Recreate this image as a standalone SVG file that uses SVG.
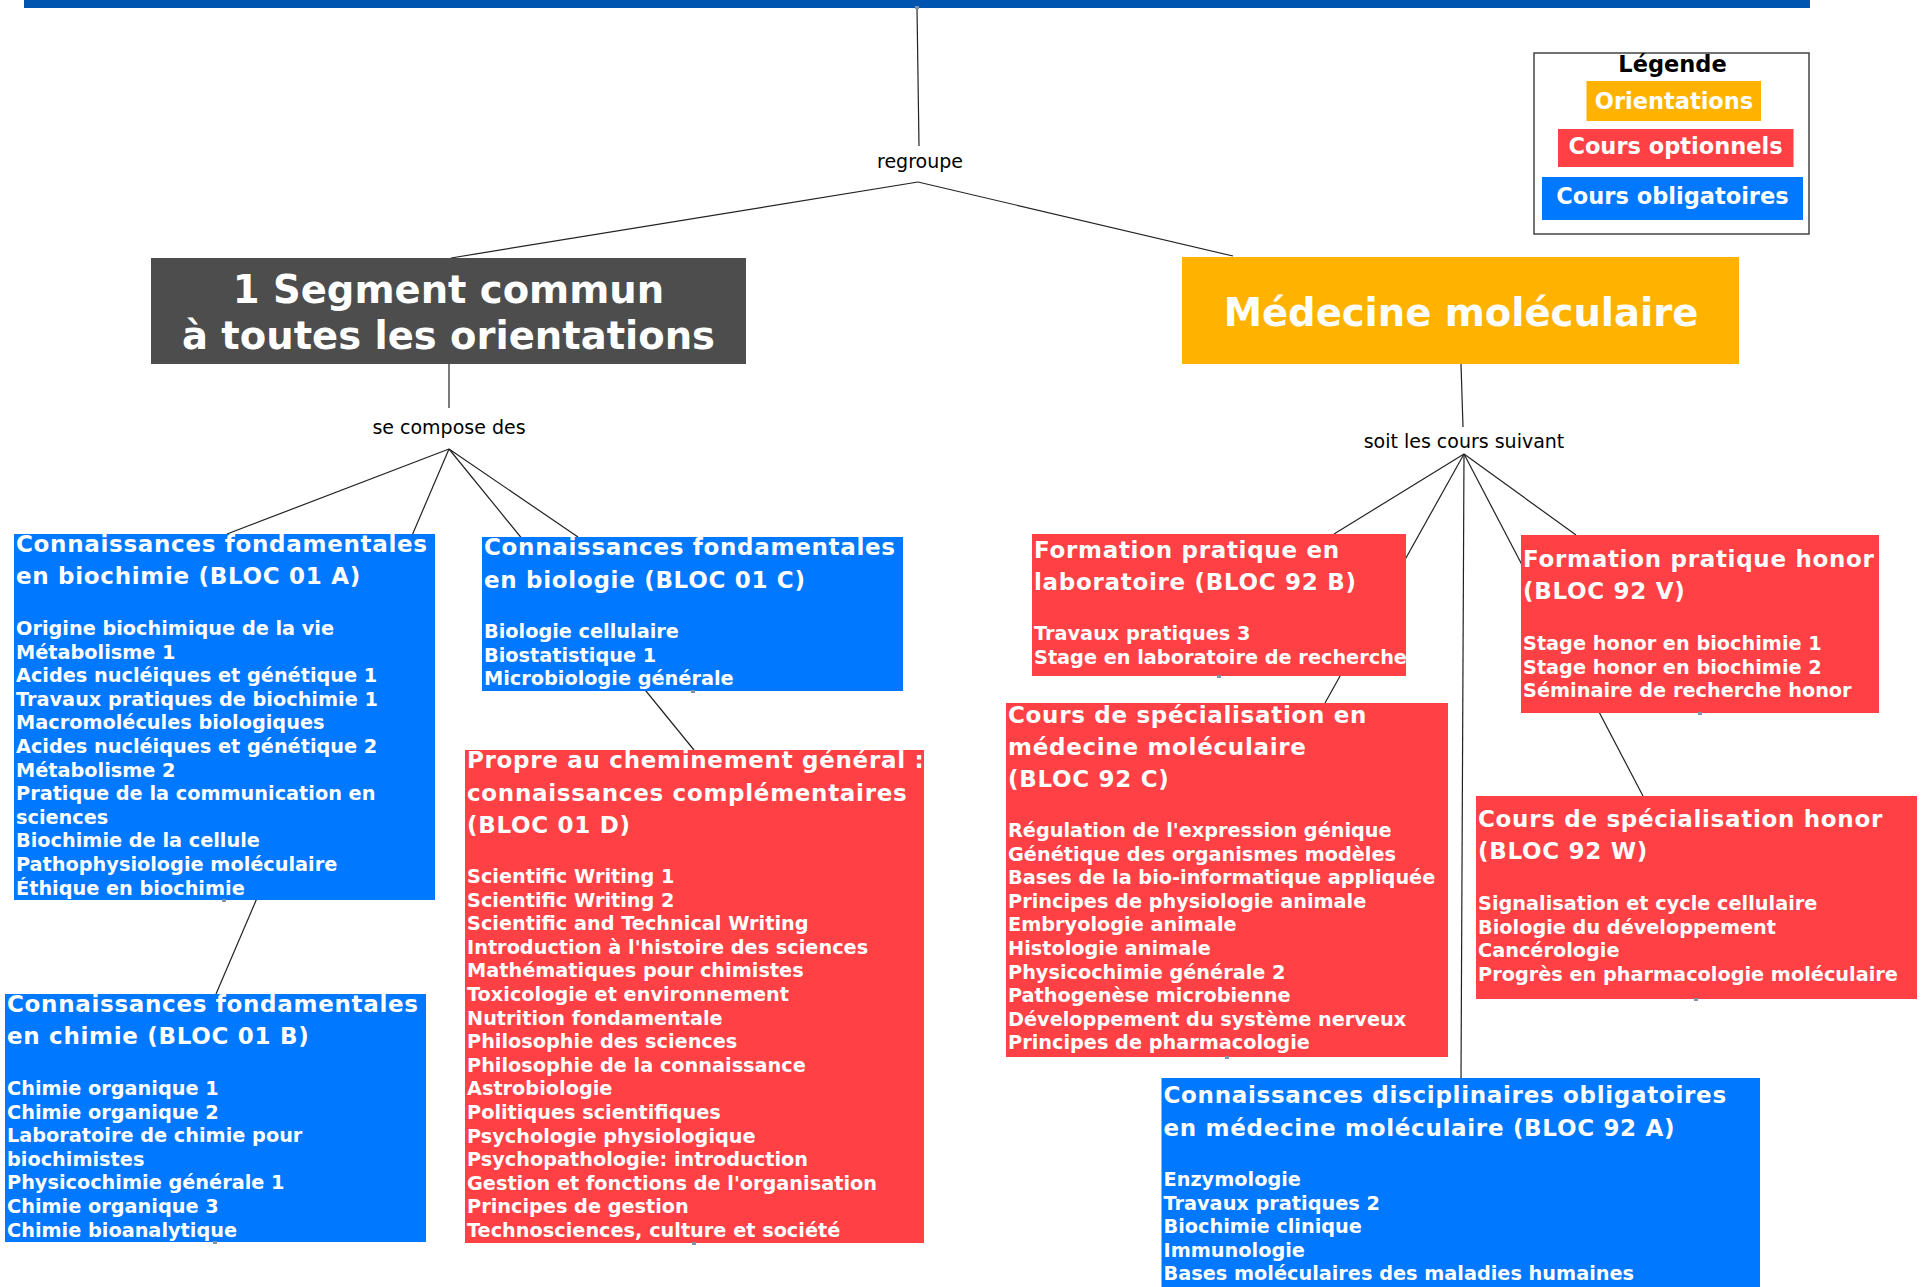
<svg xmlns="http://www.w3.org/2000/svg" width="1923" height="1287" viewBox="0 0 1923 1287">
<style>
.bg{fill:#ffffff}
.blue{fill:#0078FF}
.red{fill:#FF4044}
.orange{fill:#FFB300}
.grey{fill:#4D4D4D}
.ttl{font-family:"DejaVu Sans",Verdana,sans-serif;font-weight:bold;font-size:23px;letter-spacing:0.7px;fill:#ffffff}
.itm{font-family:"DejaVu Sans",Verdana,sans-serif;font-weight:bold;font-size:19.3px;fill:#ffffff}
.big{font-family:"DejaVu Sans",Verdana,sans-serif;font-weight:bold;font-size:38.5px;fill:#ffffff;text-anchor:middle}
.lbl{font-family:"DejaVu Sans",Verdana,sans-serif;font-size:19px;fill:#000000;text-anchor:middle}
.leg{font-family:"DejaVu Sans",Verdana,sans-serif;font-weight:bold;font-size:22.5px;fill:#ffffff;text-anchor:middle}
.con line{stroke:#222222;stroke-width:1.2;fill:none}
.hd{fill:#7F93AA}
</style>
<rect class="bg" x="0" y="0" width="1923" height="1287"/>

<g id="connectors" class="con">
<line x1="917" y1="8" x2="919" y2="146"/>
<line x1="918" y1="182" x2="451" y2="258"/>
<line x1="918" y1="182" x2="1233" y2="256"/>
<line x1="449" y1="364" x2="449" y2="408"/>
<line x1="449" y1="449" x2="227" y2="534"/>
<line x1="449" y1="449" x2="216" y2="994"/>
<line x1="449" y1="449" x2="578" y2="537"/>
<line x1="449" y1="449" x2="694" y2="750"/>
<line x1="1461" y1="364" x2="1463" y2="427"/>
<line x1="1464" y1="454" x2="1334" y2="534"/>
<line x1="1464" y1="454" x2="1325" y2="703"/>
<line x1="1464" y1="454" x2="1461" y2="1078"/>
<line x1="1464" y1="454" x2="1576" y2="535"/>
<line x1="1464" y1="454" x2="1643" y2="796"/>
</g>

<g id="root">
<rect x="24" y="-20" width="1786" height="28" fill="#0055B0"/>
</g>

<g id="lbl-regroupe"><text class="lbl" x="920" y="168">regroupe</text></g>
<g id="lbl-compose"><text class="lbl" x="449" y="434">se compose des</text></g>
<g id="lbl-suivant"><text class="lbl" x="1464" y="448">soit les cours suivant</text></g>

<g id="segment-commun">
<rect class="grey" x="151" y="258" width="595" height="106"/>
<text class="big" x="448.5" y="303">1 Segment commun</text>
<text class="big" x="448.5" y="349">à toutes les orientations</text>
</g>

<g id="medecine-moleculaire">
<rect class="orange" x="1182" y="257" width="557" height="107"/>
<text class="big" x="1461" y="326">Médecine moléculaire</text>
</g>

<g id="legende">
<rect x="1534" y="53" width="275" height="181" fill="#ffffff" stroke="#444444" stroke-width="1.5"/>
<text class="leg" x="1672.5" y="72" style="fill:#000000">Légende</text>
<rect class="orange" x="1586.5" y="81" width="174.5" height="40"/>
<text class="leg" x="1674" y="109">Orientations</text>
<rect class="red" x="1558" y="129" width="235.5" height="38"/>
<text class="leg" x="1675.5" y="154">Cours optionnels</text>
<rect class="blue" x="1542" y="177" width="261" height="43"/>
<text class="leg" x="1672.5" y="204">Cours obligatoires</text>
</g>

<g id="bloc01A">
<rect class="blue" x="14" y="534" width="421" height="366"/>
<text class="ttl"><tspan x="16" y="552">Connaissances fondamentales</tspan><tspan x="16" y="584">en biochimie (BLOC 01 A)</tspan></text>
<text class="itm">
<tspan x="16" y="635">Origine biochimique de la vie</tspan>
<tspan x="16" y="658.6">Métabolisme 1</tspan>
<tspan x="16" y="682.2">Acides nucléiques et génétique 1</tspan>
<tspan x="16" y="705.8">Travaux pratiques de biochimie 1</tspan>
<tspan x="16" y="729.4">Macromolécules biologiques</tspan>
<tspan x="16" y="753">Acides nucléiques et génétique 2</tspan>
<tspan x="16" y="776.6">Métabolisme 2</tspan>
<tspan x="16" y="800.2">Pratique de la communication en</tspan>
<tspan x="16" y="823.8">sciences</tspan>
<tspan x="16" y="847.4">Biochimie de la cellule</tspan>
<tspan x="16" y="871">Pathophysiologie moléculaire</tspan>
<tspan x="16" y="894.6">Éthique en biochimie</tspan>
</text>
</g>

<g id="bloc01C">
<rect class="blue" x="482" y="537" width="421" height="154"/>
<text class="ttl"><tspan x="484" y="555">Connaissances fondamentales</tspan><tspan x="484" y="588">en biologie (BLOC 01 C)</tspan></text>
<text class="itm">
<tspan x="484" y="638">Biologie cellulaire</tspan>
<tspan x="484" y="661.6">Biostatistique 1</tspan>
<tspan x="484" y="685.2">Microbiologie générale</tspan>
</text>
</g>

<g id="bloc01D">
<rect class="red" x="465" y="750" width="459" height="493"/>
<text class="ttl"><tspan x="467" y="768">Propre au cheminement général :</tspan><tspan x="467" y="800.5">connaissances complémentaires</tspan><tspan x="467" y="833">(BLOC 01 D)</tspan></text>
<text class="itm">
<tspan x="467" y="883">Scientific Writing 1</tspan>
<tspan x="467" y="906.6">Scientific Writing 2</tspan>
<tspan x="467" y="930.2">Scientific and Technical Writing</tspan>
<tspan x="467" y="953.8">Introduction à l'histoire des sciences</tspan>
<tspan x="467" y="977.4">Mathématiques pour chimistes</tspan>
<tspan x="467" y="1001">Toxicologie et environnement</tspan>
<tspan x="467" y="1024.6">Nutrition fondamentale</tspan>
<tspan x="467" y="1048.2">Philosophie des sciences</tspan>
<tspan x="467" y="1071.8">Philosophie de la connaissance</tspan>
<tspan x="467" y="1095.4">Astrobiologie</tspan>
<tspan x="467" y="1119">Politiques scientifiques</tspan>
<tspan x="467" y="1142.6">Psychologie physiologique</tspan>
<tspan x="467" y="1166.2">Psychopathologie: introduction</tspan>
<tspan x="467" y="1189.8">Gestion et fonctions de l'organisation</tspan>
<tspan x="467" y="1213.4">Principes de gestion</tspan>
<tspan x="467" y="1237">Technosciences, culture et société</tspan>
</text>
</g>

<g id="bloc01B">
<rect class="blue" x="5" y="994" width="421" height="248"/>
<text class="ttl"><tspan x="7" y="1012">Connaissances fondamentales</tspan><tspan x="7" y="1044">en chimie (BLOC 01 B)</tspan></text>
<text class="itm">
<tspan x="7" y="1095">Chimie organique 1</tspan>
<tspan x="7" y="1118.6">Chimie organique 2</tspan>
<tspan x="7" y="1142.2">Laboratoire de chimie pour</tspan>
<tspan x="7" y="1165.8">biochimistes</tspan>
<tspan x="7" y="1189.4">Physicochimie générale 1</tspan>
<tspan x="7" y="1213">Chimie organique 3</tspan>
<tspan x="7" y="1236.6">Chimie bioanalytique</tspan>
</text>
</g>

<g id="bloc92B">
<rect class="red" x="1032" y="534" width="374" height="142"/>
<text class="ttl"><tspan x="1034" y="558">Formation pratique en</tspan><tspan x="1034" y="590">laboratoire (BLOC 92 B)</tspan></text>
<text class="itm">
<tspan x="1034" y="640">Travaux pratiques 3</tspan>
<tspan x="1034" y="663.6">Stage en laboratoire de recherche</tspan>
</text>
</g>

<g id="bloc92C">
<rect class="red" x="1006" y="703" width="442" height="354"/>
<text class="ttl"><tspan x="1008" y="723">Cours de spécialisation en</tspan><tspan x="1008" y="755">médecine moléculaire</tspan><tspan x="1008" y="787">(BLOC 92 C)</tspan></text>
<text class="itm">
<tspan x="1008" y="837">Régulation de l'expression génique</tspan>
<tspan x="1008" y="860.6">Génétique des organismes modèles</tspan>
<tspan x="1008" y="884.2">Bases de la bio-informatique appliquée</tspan>
<tspan x="1008" y="907.8">Principes de physiologie animale</tspan>
<tspan x="1008" y="931.4">Embryologie animale</tspan>
<tspan x="1008" y="955">Histologie animale</tspan>
<tspan x="1008" y="978.6">Physicochimie générale 2</tspan>
<tspan x="1008" y="1002.2">Pathogenèse microbienne</tspan>
<tspan x="1008" y="1025.8">Développement du système nerveux</tspan>
<tspan x="1008" y="1049.4">Principes de pharmacologie</tspan>
</text>
</g>

<g id="bloc92V">
<rect class="red" x="1521" y="535" width="358" height="178"/>
<text class="ttl"><tspan x="1523" y="567">Formation pratique honor</tspan><tspan x="1523" y="599">(BLOC 92 V)</tspan></text>
<text class="itm">
<tspan x="1523" y="650">Stage honor en biochimie 1</tspan>
<tspan x="1523" y="673.6">Stage honor en biochimie 2</tspan>
<tspan x="1523" y="697.2">Séminaire de recherche honor</tspan>
</text>
</g>

<g id="bloc92W">
<rect class="red" x="1476" y="796" width="441" height="203"/>
<text class="ttl"><tspan x="1478" y="827">Cours de spécialisation honor</tspan><tspan x="1478" y="859">(BLOC 92 W)</tspan></text>
<text class="itm">
<tspan x="1478" y="910">Signalisation et cycle cellulaire</tspan>
<tspan x="1478" y="933.6">Biologie du développement</tspan>
<tspan x="1478" y="957.2">Cancérologie</tspan>
<tspan x="1478" y="980.8">Progrès en pharmacologie moléculaire</tspan>
</text>
</g>

<g id="bloc92A">
<rect class="blue" x="1161.5" y="1078" width="598.5" height="230"/>
<text class="ttl"><tspan x="1163.5" y="1103">Connaissances disciplinaires obligatoires</tspan><tspan x="1163.5" y="1136">en médecine moléculaire (BLOC 92 A)</tspan></text>
<text class="itm">
<tspan x="1163.5" y="1186">Enzymologie</tspan>
<tspan x="1163.5" y="1209.6">Travaux pratiques 2</tspan>
<tspan x="1163.5" y="1233.2">Biochimie clinique</tspan>
<tspan x="1163.5" y="1256.8">Immunologie</tspan>
<tspan x="1163.5" y="1280.4">Bases moléculaires des maladies humaines</tspan>
</text>
</g>

<g id="handles">
<rect class="hd" x="915" y="6" width="4" height="3"/>
<rect class="hd" x="222" y="899" width="4" height="3"/>
<rect class="hd" x="691" y="690" width="4" height="3"/>
<rect class="hd" x="692" y="1242" width="4" height="3"/>
<rect class="hd" x="213" y="1241" width="4" height="3"/>
<rect class="hd" x="1217" y="675" width="4" height="3"/>
<rect class="hd" x="1698" y="712" width="4" height="3"/>
<rect class="hd" x="1225" y="1056" width="4" height="3"/>
<rect class="hd" x="1694" y="998" width="4" height="3"/>
</g>
</svg>
